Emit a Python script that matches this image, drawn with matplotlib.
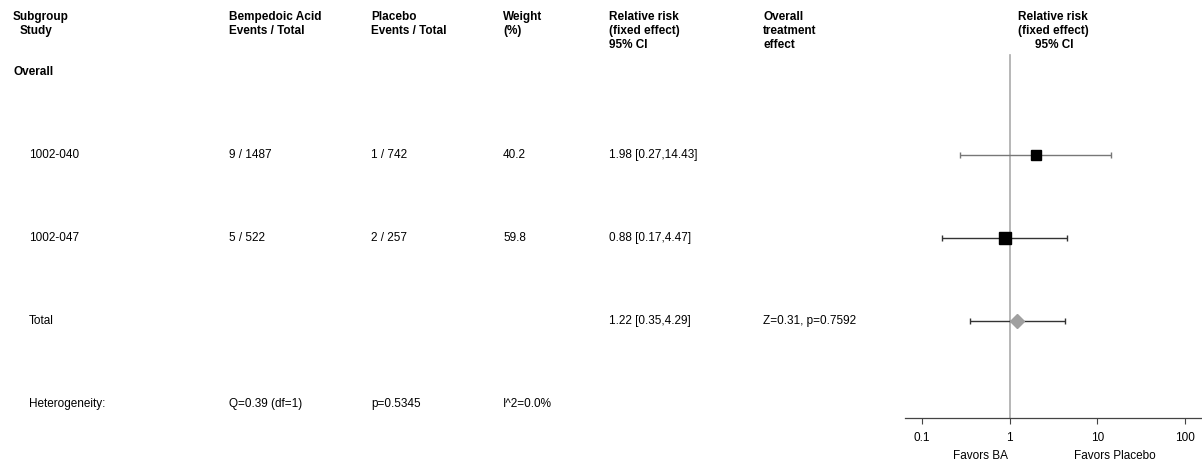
import numpy as np
import matplotlib.pyplot as plt
from matplotlib.transforms import blended_transform_factory

plt.rcParams['font.family'] = ['Liberation Sans', 'DejaVu Sans']

studies = ["1002-040", "1002-047"]
ba_events = ["9 / 1487", "5 / 522"]
pl_events = ["1 / 742", "2 / 257"]
weights = [40.2, 59.8]
rr = [1.98, 0.88]
rr_lo = [0.27, 0.17]
rr_hi = [14.43, 4.47]

total_rr = 1.22
total_lo = 0.35
total_hi = 4.29
total_test = "Z=0.31, p=0.7592"
het_q = "Q=0.39 (df=1)"
het_p = "p=0.5345"
het_i2 = "I^2=0.0%"

xticks = [0.1, 1, 10, 100]
xtick_labels = ["0.1", "1", "10", "100"]

W, H = 1202, 466
fig = plt.figure(figsize=(W / 100, H / 100), dpi=100)

# forest panel on the right; y runs in row units (0 = Overall)
ax = fig.add_axes([905 / W, 48 / H, 297 / W, 418 / H])
row_px = 83.0
top_row = -72 / row_px
bottom_row = (418 - 72) / row_px
ax.set_ylim(bottom_row, top_row)
ax.set_xscale('log')
lo_dec = -1 - (922 - 905) / 87.7
hi_dec = 2 + (1202 - 1185) / 87.7
ax.set_xlim(10 ** lo_dec, 10 ** hi_dec)

for s in ['top', 'right', 'left']:
    ax.spines[s].set_visible(False)
ax.spines['bottom'].set_color('#444444')
ax.spines['bottom'].set_linewidth(0.9)
ax.set_yticks([])
ax.set_xticks(xticks)
ax.set_xticklabels(xtick_labels, fontsize=8.5)
ax.minorticks_off()
ax.tick_params(axis='x', length=4, width=0.8, color='#444444', pad=6)

# line of no effect
ax.plot([1, 1], [(55 - 72) / row_px, bottom_row], color='#aaaaaa', lw=1.2,
        zorder=1)

ci_colors = ['#777777', '#333333']
for i in range(len(studies)):
    y = i + 1
    ax.errorbar(rr[i], y, xerr=[[rr[i] - rr_lo[i]], [rr_hi[i] - rr[i]]],
                fmt='none', ecolor=ci_colors[i], elinewidth=1.0, capsize=2.5,
                capthick=1.0, zorder=2)
    ax.plot(rr[i], y, marker='s', color='black', ms=np.sqrt(weights[i]) * 1.05,
            zorder=3)

ty = len(studies) + 1
ax.errorbar(total_rr, ty, xerr=[[total_rr - total_lo], [total_hi - total_rr]],
            fmt='none', ecolor='#333333', elinewidth=1.0, capsize=2.5,
            capthick=1.0, zorder=2)
ax.plot(total_rr, ty, marker='D', color='#a0a0a0', ms=7, zorder=3)

xb = blended_transform_factory(ax.transData, fig.transFigure)
ax.text(0.47, 10 / H, "Favors BA", transform=xb, ha='center', va='center',
        fontsize=8.5)
ax.text(16, 10 / H, "Favors Placebo", transform=xb, ha='center', va='center',
        fontsize=8.5)

# table text
tr = blended_transform_factory(fig.transFigure, ax.transData)
fs = 8.5


def put(xpx, row, s, bold=False, ha='left'):
    ax.text(xpx / W, row, s, transform=tr, ha=ha, va='center', fontsize=fs,
            fontweight='bold' if bold else 'normal', clip_on=False)


h1 = (17 - 72) / row_px
h2 = (31 - 72) / row_px
h3 = (45 - 72) / row_px

put(13, h1, "Subgroup", True)
put(20, h2, "Study", True)
put(229, h1, "Bempedoic Acid", True)
put(229, h2, "Events / Total", True)
put(371, h1, "Placebo", True)
put(371, h2, "Events / Total", True)
put(503, h1, "Weight", True)
put(503, h2, "(%)", True)
put(609, h1, "Relative risk", True)
put(609, h2, "(fixed effect)", True)
put(609, h3, "95% CI", True)
put(763, h1, "Overall", True)
put(763, h2, "treatment", True)
put(763, h3, "effect", True)
put(1053, h1, "Relative risk", True, ha='center')
put(1053, h2, "(fixed effect)", True, ha='center')
put(1054, h3, "95% CI", True, ha='center')

put(13, 0, "Overall", True)

for i in range(len(studies)):
    y = i + 1
    put(29, y, studies[i])
    put(229, y, ba_events[i])
    put(371, y, pl_events[i])
    put(503, y, f"{weights[i]:.1f}")
    put(609, y, f"{rr[i]:.2f} [{rr_lo[i]:.2f},{rr_hi[i]:.2f}]")

put(29, ty, "Total")
put(609, ty, f"{total_rr:.2f} [{total_lo:.2f},{total_hi:.2f}]")
put(763, ty, total_test)

hy = ty + 1
put(29, hy, "Heterogeneity:")
put(229, hy, het_q)
put(371, hy, het_p)
put(503, hy, het_i2)

fig.savefig("out.png", dpi=100)
